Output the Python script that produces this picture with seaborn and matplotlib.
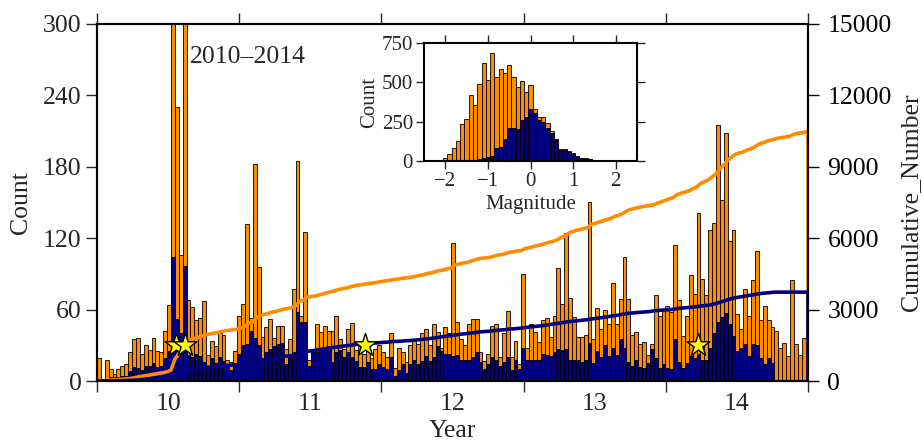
import numpy as np
import pandas as pd
import matplotlib
matplotlib.use("Agg")
import matplotlib.pyplot as plt
import seaborn as sns

# ---------------- data (10-day bins starting 2010-01-01) ----------------
START_YEAR = 2010.0
END_YEAR = 2015.0
BIN_DAYS = 10

ORANGE_2010 = [19, 0, 18, 10, 6, 10, 13, 14, 24, 35, 36, 23, 30, 26, 36, 25, 24, 42, 64, 460,
               230, 106, 400, 68, 62, 51, 53, 67, 22, 34, 29, 40, 39, 18, 16, 25, 55]
ORANGE_2011 = [65, 132, 53, 182, 96, 37, 45, 52, 36, 46, 46, 27, 35, 77, 185, 55, 125, 18,
               27, 48, 41, 46, 42, 42, 55, 35, 27, 44, 49, 26, 29, 23, 26, 19, 27, 30]
ORANGE_2012 = [24, 20, 40, 11, 28, 24, 16, 30, 34, 31, 40, 44, 30, 48, 41, 28, 45, 40, 116,
               50, 35, 30, 48, 52, 52, 24, 17, 23, 46, 48, 20, 40, 59, 20, 34, 14, 90]
ORANGE_2013 = [28, 48, 41, 33, 51, 53, 37, 55, 95, 65, 124, 70, 54, 37, 37, 39, 150, 35,
               61, 44, 60, 48, 82, 48, 69, 104, 69, 39, 41, 31, 33, 22, 31, 72, 55, 60]
ORANGE_2014 = [63, 58, 114, 68, 38, 55, 89, 73, 141, 86, 72, 127, 133, 215, 152, 208, 118,
               127, 56, 44, 77, 55, 85, 109, 51, 63, 51, 45, 42, 28, 32, 21, 85, 31, 22, 36, 47]

NAVY_2010 = [2, 0, 2, 3, 3, 3, 4, 4, 8, 12, 11, 9, 13, 13, 15, 12, 13, 19, 25, 104,
             52, 40, 97, 22, 20, 23, 21, 16, 12, 19, 15, 20, 17, 13, 9, 13, 23]
NAVY_2011 = [30, 31, 42, 36, 30, 17, 24, 27, 29, 31, 32, 14, 20, 24, 58, 50, 50, 13,
             24, 24, 27, 27, 29, 16, 24, 26, 20, 24, 20, 17, 12, 12, 16, 10, 10, 14]
NAVY_2012 = [12, 10, 20, 4, 9, 14, 7, 14, 18, 14, 17, 21, 17, 20, 29, 25, 23, 23, 21,
             22, 18, 18, 18, 20, 24, 16, 10, 14, 20, 18, 13, 16, 20, 9, 18, 10, 28]
NAVY_2013 = [18, 18, 18, 18, 23, 22, 21, 24, 27, 26, 27, 18, 18, 18, 16, 18, 32, 15,
             25, 20, 30, 21, 28, 22, 35, 28, 16, 13, 18, 12, 11, 15, 27, 19, 11, 14]
NAVY_2014 = [11, 10, 35, 16, 11, 15, 21, 19, 23, 18, 18, 28, 40, 50, 54, 57, 48, 38, 25,
             28, 31, 21, 31, 30, 19, 14, 19, 15, 0, 0, 0, 0, 0, 0, 0, 0, 0]

STAR_YEARS = [2010.556, 2010.619, 2011.885, 2014.226]
STAR_COUNTS = [30, 30, 30, 30]

YEAR_LABELS = ["10", "11", "12", "13", "14"]
YEAR_LABEL_POS = [2010.5, 2011.5, 2012.5, 2013.5, 2014.5]
YEAR_TICKS = [2010, 2011, 2012, 2013, 2014, 2015]
COUNT_TICKS = [0, 60, 120, 180, 240, 300]
CUM_TICKS = [0, 3000, 6000, 9000, 12000, 15000]

# magnitude histogram (0.1 bins centred on -2.5 ... 2.5)
MAG_CENTERS = [-2.5, -2.4, -2.3, -2.2, -2.1, -2.0, -1.9, -1.8, -1.7, -1.6, -1.5, -1.4, -1.3,
               -1.2, -1.1, -1.0, -0.9, -0.8, -0.7, -0.6, -0.5, -0.4, -0.3, -0.2, -0.1, 0.0,
               0.1, 0.2, 0.3, 0.4, 0.5, 0.6, 0.7, 0.8, 0.9, 1.0, 1.1, 1.2, 1.3, 1.4, 1.5,
               1.6, 1.7, 1.8, 1.9, 2.0, 2.1, 2.2, 2.3, 2.4, 2.5]
MAG_ALL = [0, 1, 2, 3, 6, 17, 43, 81, 128, 235, 265, 417, 359, 492, 624, 513, 688, 534, 583,
           560, 613, 534, 470, 509, 438, 481, 331, 282, 278, 241, 192, 139, 75, 75, 64, 53,
           32, 17, 17, 13, 9, 7, 5, 4, 4, 3, 2, 3, 2, 1, 1]
MAG_SUB = [0, 0, 0, 0, 0, 0, 0, 1, 1, 2, 3, 4, 6, 10, 17, 26, 32, 81, 90, 137, 209, 209,
           203, 263, 278, 331, 303, 261, 246, 209, 175, 132, 68, 68, 60, 47, 28, 16, 15, 12,
           8, 6, 5, 4, 4, 3, 2, 3, 2, 1, 1]
MAG_TICKS = [-2, -1, 0, 1, 2]
MAG_COUNT_TICKS = [0, 250, 500, 750]

# ---------------- style ----------------
sns.set_theme(style="ticks")
plt.rcParams["font.family"] = ["Liberation Serif", "DejaVu Serif"]
plt.rcParams["axes.unicode_minus"] = True

ORANGE = "#FF8C00"
NAVY = "#000080"
FS = 18.5
FS_IN = 15

counts_all = np.array(ORANGE_2010 + ORANGE_2011 + ORANGE_2012 + ORANGE_2013 + ORANGE_2014, float)
counts_sub = np.array(NAVY_2010 + NAVY_2011 + NAVY_2012 + NAVY_2013 + NAVY_2014, float)
edges = START_YEAR + np.arange(len(counts_all) + 1) * BIN_DAYS / 365.25
centers = 0.5 * (edges[:-1] + edges[1:])
time_df = pd.DataFrame({"t": centers, "all": counts_all, "sub": counts_sub})
edge_list = [float(e) for e in edges]

fig = plt.figure(figsize=(9.24, 4.46), dpi=100)
ax = fig.add_axes([97 / 924, 65 / 446, 711 / 924, 357 / 446])

sns.histplot(data=time_df, x="t", weights="all", bins=edge_list, color=ORANGE, alpha=1,
             edgecolor="black", linewidth=0.6, ax=ax)
sns.histplot(data=time_df, x="t", weights="sub", bins=edge_list, color=NAVY, alpha=1,
             edgecolor="black", linewidth=0.6, ax=ax)
ax.set_xlim(START_YEAR, END_YEAR)
ax.set_ylim(0, 300)

ax.text(2010.654, 272, "2010\u20132014", fontsize=FS, ha="left", va="center")

# cumulative curves on the right axis
ax2 = ax.twinx()


def cum_line(c):
    cs = np.cumsum(c)
    xs = np.concatenate([[edges[0]], edges[1:-1], [END_YEAR, END_YEAR]])
    ys = np.concatenate([[0], cs[:-1], [cs[-1], 0]])
    return pd.DataFrame({"t": xs, "cum": ys})


sns.lineplot(data=cum_line(counts_all), x="t", y="cum", sort=False, estimator=None,
             color=ORANGE, linewidth=2.6, ax=ax2)
sns.lineplot(data=cum_line(counts_sub), x="t", y="cum", sort=False, estimator=None,
             color=NAVY, linewidth=2.6, ax=ax2)
ax2.set_xlim(START_YEAR, END_YEAR)
ax2.set_ylim(0, 15000)
ax2.set_yticks(CUM_TICKS)
ax2.tick_params(axis="y", direction="out", length=8, width=1, labelsize=FS, pad=6, colors="black")
ax2.set_ylabel("Cumulative_Number", fontsize=FS, labelpad=6)
ax2.set_xlabel("")

# stars overlay
ax3 = fig.add_axes(ax.get_position().bounds)
star_df = pd.DataFrame({"t": STAR_YEARS, "n": STAR_COUNTS})
sns.scatterplot(data=star_df, x="t", y="n", marker="*", s=300, color="#FFFF00",
                edgecolor="black", linewidth=1, ax=ax3, zorder=5)
ax3.set_xlim(START_YEAR, END_YEAR)
ax3.set_ylim(0, 300)
ax3.axis("off")

# main axis ticks / labels
ax.set_xticks(YEAR_TICKS)
ax.set_xticklabels([])
ax.set_xticks(YEAR_LABEL_POS, minor=True)
ax.set_xticklabels(YEAR_LABELS, minor=True)
ax.tick_params(axis="x", which="major", direction="out", length=8, width=1,
               top=True, bottom=True, labelbottom=False)
ax.tick_params(axis="x", which="minor", length=0, pad=9, labelsize=FS)
ax.set_yticks(COUNT_TICKS)
ax.tick_params(axis="y", direction="out", length=8, width=1, labelsize=FS, pad=3)
ax.set_ylabel("Count", fontsize=FS, labelpad=8)
ax.set_xlabel("Year", fontsize=FS, labelpad=3)
for a in (ax, ax2):
    for sp in a.spines.values():
        sp.set_linewidth(1.5)
        sp.set_color("black")

# inset magnitude histogram
axin = fig.add_axes([424 / 924, (446 - 161) / 446, 213 / 924, 118 / 446])
mc = np.array(MAG_CENTERS)
mag_edges = [float(e) for e in np.append(mc - 0.05, mc[-1] + 0.05)]
mag_df = pd.DataFrame({"m": mc, "all": MAG_ALL, "sub": MAG_SUB})
sns.histplot(data=mag_df, x="m", weights="all", bins=mag_edges, color=ORANGE, alpha=1,
             edgecolor="black", linewidth=0.6, ax=axin)
sns.histplot(data=mag_df, x="m", weights="sub", bins=mag_edges, color=NAVY, alpha=1,
             edgecolor="black", linewidth=0.6, ax=axin)
axin.set_xlim(-2.5, 2.5)
axin.set_ylim(0, 750)
axin.set_xticks(MAG_TICKS)
axin.set_yticks(MAG_COUNT_TICKS)
axin.tick_params(direction="out", length=6, width=1, labelsize=FS_IN, pad=2,
                 top=True, right=True)
axin.set_xlabel("Magnitude", fontsize=FS_IN, labelpad=3)
axin.set_ylabel("Count", fontsize=FS_IN, labelpad=2)
axin.set_facecolor("white")
for sp in axin.spines.values():
    sp.set_linewidth(1.5)
    sp.set_color("black")

fig.savefig("out.png", dpi=100)
